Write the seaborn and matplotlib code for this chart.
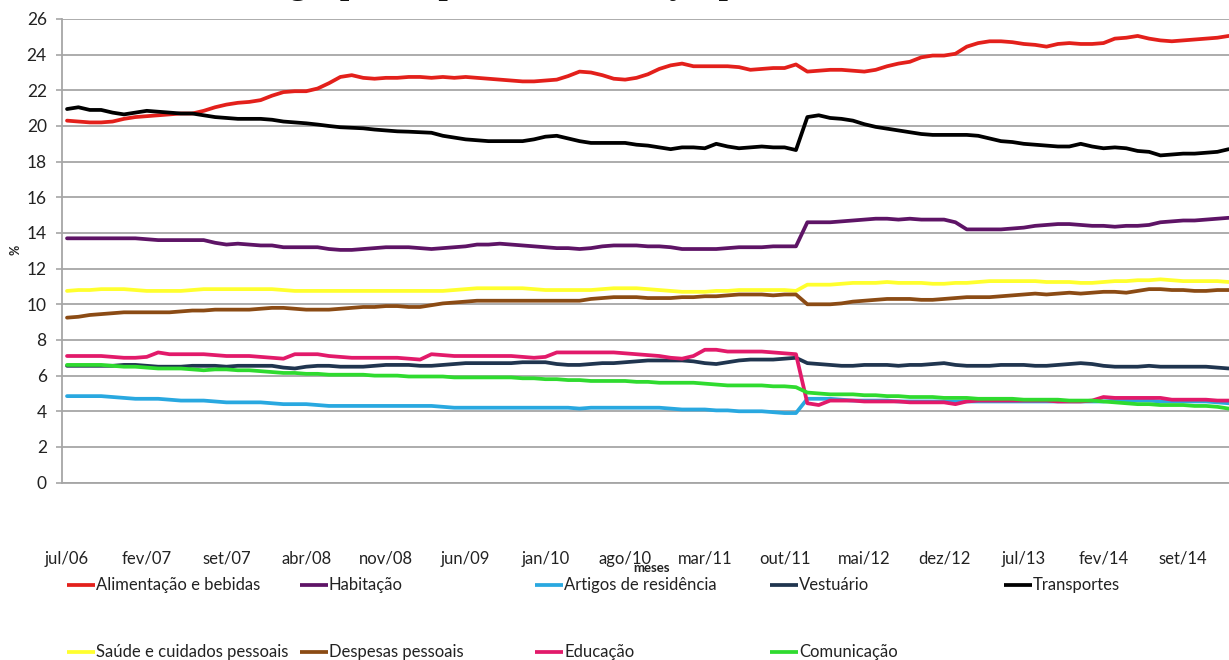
import numpy as np
import pandas as pd
import matplotlib
matplotlib.use("Agg")
import matplotlib.pyplot as plt
import seaborn as sns
from matplotlib.lines import Line2D

# Monthly weights (%) of the IPCA groups, jul/06 onwards
alimentacao = [
    20.3, 20.25, 20.2, 20.2, 20.25, 20.4, 20.5, 20.55, 20.6, 20.65,
    20.7, 20.7, 20.85, 21.05, 21.2, 21.3, 21.35, 21.45, 21.7, 21.9,
    21.95, 21.95, 22.1, 22.4, 22.75, 22.85, 22.7, 22.65, 22.7, 22.7,
    22.75, 22.75, 22.7, 22.75, 22.7, 22.75, 22.7, 22.65, 22.6, 22.55,
    22.5, 22.5, 22.55, 22.6, 22.8, 23.05, 23.0, 22.85, 22.65, 22.6,
    22.7, 22.9, 23.2, 23.4, 23.5, 23.35, 23.35, 23.35, 23.35, 23.3,
    23.15, 23.2, 23.25, 23.25, 23.45, 23.05, 23.1, 23.15, 23.15, 23.1,
    23.05, 23.15, 23.35, 23.5, 23.6, 23.85, 23.95, 23.95, 24.05, 24.45,
    24.65, 24.75, 24.75, 24.7, 24.6, 24.55, 24.45, 24.6, 24.65, 24.6,
    24.6, 24.65, 24.9, 24.95, 25.05, 24.9, 24.8, 24.75, 24.8, 24.85,
    24.9, 24.95, 25.05]
habitacao = [
    13.7, 13.7, 13.7, 13.7, 13.7, 13.7, 13.7, 13.65, 13.6, 13.6,
    13.6, 13.6, 13.6, 13.45, 13.35, 13.4, 13.35, 13.3, 13.3, 13.2,
    13.2, 13.2, 13.2, 13.1, 13.05, 13.05, 13.1, 13.15, 13.2, 13.2,
    13.2, 13.15, 13.1, 13.15, 13.2, 13.25, 13.35, 13.35, 13.4, 13.35,
    13.3, 13.25, 13.2, 13.15, 13.15, 13.1, 13.15, 13.25, 13.3, 13.3,
    13.3, 13.25, 13.25, 13.2, 13.1, 13.1, 13.1, 13.1, 13.15, 13.2,
    13.2, 13.2, 13.25, 13.25, 13.25, 14.6, 14.6, 14.6, 14.65, 14.7,
    14.75, 14.8, 14.8, 14.75, 14.8, 14.75, 14.75, 14.75, 14.6, 14.2,
    14.2, 14.2, 14.2, 14.25, 14.3, 14.4, 14.45, 14.5, 14.5, 14.45,
    14.4, 14.4, 14.35, 14.4, 14.4, 14.45, 14.6, 14.65, 14.7, 14.7,
    14.75, 14.8, 14.85]
artigos = [
    4.85, 4.85, 4.85, 4.85, 4.8, 4.75, 4.7, 4.7, 4.7, 4.65,
    4.6, 4.6, 4.6, 4.55, 4.5, 4.5, 4.5, 4.5, 4.45, 4.4,
    4.4, 4.4, 4.35, 4.3, 4.3, 4.3, 4.3, 4.3, 4.3, 4.3,
    4.3, 4.3, 4.3, 4.25, 4.2, 4.2, 4.2, 4.2, 4.2, 4.2,
    4.2, 4.2, 4.2, 4.2, 4.2, 4.15, 4.2, 4.2, 4.2, 4.2,
    4.2, 4.2, 4.2, 4.15, 4.1, 4.1, 4.1, 4.05, 4.05, 4.0,
    4.0, 4.0, 3.95, 3.9, 3.9, 4.7, 4.7, 4.7, 4.65, 4.6,
    4.6, 4.6, 4.6, 4.55, 4.55, 4.55, 4.55, 4.55, 4.55, 4.55,
    4.55, 4.55, 4.55, 4.55, 4.55, 4.55, 4.55, 4.55, 4.55, 4.55,
    4.55, 4.55, 4.6, 4.6, 4.6, 4.6, 4.55, 4.55, 4.55, 4.55,
    4.55, 4.5, 4.45]
vestuario = [
    6.55, 6.55, 6.55, 6.55, 6.55, 6.6, 6.6, 6.55, 6.5, 6.5,
    6.5, 6.55, 6.55, 6.55, 6.5, 6.55, 6.55, 6.55, 6.55, 6.45,
    6.4, 6.5, 6.55, 6.55, 6.5, 6.5, 6.5, 6.55, 6.6, 6.6,
    6.6, 6.55, 6.55, 6.6, 6.65, 6.7, 6.7, 6.7, 6.7, 6.7,
    6.75, 6.75, 6.75, 6.65, 6.6, 6.6, 6.65, 6.7, 6.7, 6.75,
    6.8, 6.85, 6.85, 6.85, 6.85, 6.8, 6.7, 6.65, 6.75, 6.85,
    6.9, 6.9, 6.9, 6.95, 7.0, 6.7, 6.65, 6.6, 6.55, 6.55,
    6.6, 6.6, 6.6, 6.55, 6.6, 6.6, 6.65, 6.7, 6.6, 6.55,
    6.55, 6.55, 6.6, 6.6, 6.6, 6.55, 6.55, 6.6, 6.65, 6.7,
    6.65, 6.55, 6.5, 6.5, 6.5, 6.55, 6.5, 6.5, 6.5, 6.5,
    6.5, 6.45, 6.4]
transportes = [
    20.95, 21.05, 20.9, 20.9, 20.75, 20.65, 20.75, 20.85, 20.8, 20.75,
    20.7, 20.7, 20.6, 20.5, 20.45, 20.4, 20.4, 20.4, 20.35, 20.25,
    20.2, 20.15, 20.08, 20.0, 19.93, 19.9, 19.87, 19.8, 19.75, 19.7,
    19.68, 19.65, 19.62, 19.45, 19.35, 19.25, 19.2, 19.15, 19.15, 19.15,
    19.15, 19.25, 19.4, 19.45, 19.3, 19.15, 19.05, 19.05, 19.05, 19.05,
    18.95, 18.9, 18.8, 18.7, 18.8, 18.8, 18.75, 19.0, 18.85, 18.75,
    18.8, 18.85, 18.8, 18.8, 18.65, 20.5, 20.6, 20.45, 20.4, 20.3,
    20.1, 19.95, 19.85, 19.75, 19.65, 19.55, 19.5, 19.5, 19.5, 19.5,
    19.45, 19.3, 19.15, 19.1, 19.0, 18.95, 18.9, 18.85, 18.85, 19.0,
    18.85, 18.75, 18.8, 18.75, 18.6, 18.55, 18.35, 18.4, 18.45, 18.45,
    18.5, 18.55, 18.7]
saude = [
    10.75, 10.8, 10.8, 10.85, 10.85, 10.85, 10.8, 10.75, 10.75, 10.75,
    10.75, 10.8, 10.85, 10.85, 10.85, 10.85, 10.85, 10.85, 10.85, 10.8,
    10.75, 10.75, 10.75, 10.75, 10.75, 10.75, 10.75, 10.75, 10.75, 10.75,
    10.75, 10.75, 10.75, 10.75, 10.8, 10.85, 10.9, 10.9, 10.9, 10.9,
    10.9, 10.85, 10.8, 10.8, 10.8, 10.8, 10.8, 10.85, 10.9, 10.9,
    10.9, 10.85, 10.8, 10.75, 10.7, 10.7, 10.7, 10.75, 10.75, 10.8,
    10.8, 10.8, 10.8, 10.8, 10.75, 11.1, 11.1, 11.1, 11.15, 11.2,
    11.2, 11.2, 11.25, 11.2, 11.2, 11.2, 11.15, 11.15, 11.2, 11.2,
    11.25, 11.3, 11.3, 11.3, 11.3, 11.3, 11.25, 11.25, 11.25, 11.2,
    11.2, 11.25, 11.3, 11.3, 11.35, 11.35, 11.4, 11.35, 11.3, 11.3,
    11.3, 11.3, 11.25]
despesas = [
    9.25, 9.3, 9.4, 9.45, 9.5, 9.55, 9.55, 9.55, 9.55, 9.55,
    9.6, 9.65, 9.65, 9.7, 9.7, 9.7, 9.7, 9.75, 9.8, 9.8,
    9.75, 9.7, 9.7, 9.7, 9.75, 9.8, 9.85, 9.85, 9.9, 9.9,
    9.85, 9.85, 9.95, 10.05, 10.1, 10.15, 10.2, 10.2, 10.2, 10.2,
    10.2, 10.2, 10.2, 10.2, 10.2, 10.2, 10.3, 10.35, 10.4, 10.4,
    10.4, 10.35, 10.35, 10.35, 10.4, 10.4, 10.45, 10.45, 10.5, 10.55,
    10.55, 10.55, 10.5, 10.55, 10.55, 10.0, 10.0, 10.0, 10.05, 10.15,
    10.2, 10.25, 10.3, 10.3, 10.3, 10.25, 10.25, 10.3, 10.35, 10.4,
    10.4, 10.4, 10.45, 10.5, 10.55, 10.6, 10.55, 10.6, 10.65, 10.6,
    10.65, 10.7, 10.7, 10.65, 10.75, 10.85, 10.85, 10.8, 10.8, 10.75,
    10.75, 10.8, 10.8]
educacao = [
    7.1, 7.1, 7.1, 7.1, 7.05, 7.0, 7.0, 7.05, 7.3, 7.2,
    7.2, 7.2, 7.2, 7.15, 7.1, 7.1, 7.1, 7.05, 7.0, 6.95,
    7.2, 7.2, 7.2, 7.1, 7.05, 7.0, 7.0, 7.0, 7.0, 7.0,
    6.95, 6.9, 7.2, 7.15, 7.1, 7.1, 7.1, 7.1, 7.1, 7.1,
    7.05, 7.0, 7.05, 7.3, 7.3, 7.3, 7.3, 7.3, 7.3, 7.25,
    7.2, 7.15, 7.1, 7.0, 6.95, 7.1, 7.45, 7.45, 7.35, 7.35,
    7.35, 7.35, 7.3, 7.25, 7.2, 4.45, 4.35, 4.6, 4.6, 4.6,
    4.55, 4.55, 4.55, 4.55, 4.5, 4.5, 4.5, 4.5, 4.4, 4.55,
    4.6, 4.6, 4.6, 4.6, 4.6, 4.6, 4.6, 4.55, 4.55, 4.55,
    4.6, 4.8, 4.75, 4.75, 4.75, 4.75, 4.75, 4.65, 4.65, 4.65,
    4.65, 4.6, 4.6]
comunicacao = [
    6.6, 6.6, 6.6, 6.6, 6.55, 6.5, 6.5, 6.45, 6.4, 6.4,
    6.4, 6.35, 6.3, 6.35, 6.35, 6.3, 6.3, 6.25, 6.2, 6.15,
    6.15, 6.1, 6.1, 6.05, 6.05, 6.05, 6.05, 6.0, 6.0, 6.0,
    5.95, 5.95, 5.95, 5.95, 5.9, 5.9, 5.9, 5.9, 5.9, 5.9,
    5.85, 5.85, 5.8, 5.8, 5.75, 5.75, 5.7, 5.7, 5.7, 5.7,
    5.65, 5.65, 5.6, 5.6, 5.6, 5.6, 5.55, 5.5, 5.45, 5.45,
    5.45, 5.45, 5.4, 5.4, 5.35, 5.05, 5.0, 4.95, 4.95, 4.95,
    4.9, 4.9, 4.85, 4.85, 4.8, 4.8, 4.8, 4.75, 4.75, 4.75,
    4.7, 4.7, 4.7, 4.7, 4.65, 4.65, 4.65, 4.65, 4.6, 4.6,
    4.6, 4.55, 4.5, 4.45, 4.4, 4.4, 4.35, 4.35, 4.35, 4.3,
    4.3, 4.25, 4.15]

grupos = ["Alimentação e bebidas", "Habitação", "Artigos de residência",
          "Vestuário", "Transportes", "Saúde e cuidados pessoais",
          "Despesas pessoais", "Educação", "Comunicação"]
series = [alimentacao, habitacao, artigos, vestuario, transportes,
          saude, despesas, educacao, comunicacao]
cores = ["#E3201B", "#5E1466", "#29A8E0", "#20354F", "#000000",
         "#FFFF2E", "#8B4B14", "#E21A6A", "#2FDB2F"]

tick_labels = ["jul/06", "fev/07", "set/07", "abr/08", "nov/08", "jun/09",
               "jan/10", "ago/10", "mar/11", "out/11", "mai/12", "dez/12",
               "jul/13", "fev/14", "set/14"]
tick_step = 7

n = len(alimentacao)
df = pd.concat(
    [pd.DataFrame({"mes": np.arange(n), "peso": vals, "grupo": g})
     for g, vals in zip(grupos, series)],
    ignore_index=True)

sns.set_theme(style="white")
plt.rcParams["font.family"] = ["Lato", "DejaVu Sans"]

W, H = 1229, 660
fig = plt.figure(figsize=(W / 100, H / 100), dpi=100)
fig.patch.set_facecolor("white")

def fx(px):
    return px / W

def fy(py):
    return 1 - py / H

ax_left, ax_right, ax_top, ax_bot = 62, 1229, 19, 482.6
ax = fig.add_axes([fx(ax_left), fy(ax_bot), fx(ax_right - ax_left),
                   (ax_bot - ax_top) / H])
ax.set_facecolor("white")

grid_c = "#A6A6A6"
ax.set_axisbelow(True)
ax.yaxis.grid(True, color=grid_c, linewidth=1.3)
ax.xaxis.grid(False)

lw = 2.7
sns.lineplot(data=df, x="mes", y="peso", hue="grupo", hue_order=grupos,
             palette=dict(zip(grupos, cores)), linewidth=lw, legend=False,
             ax=ax, clip_on=True)

ax.set_xlim(-0.44, 102.02)
ax.set_ylim(0, 26)
ax.set_yticks(np.arange(0, 27, 2))
ax.set_yticklabels([str(v) for v in range(0, 27, 2)])
ax.set_xticks(np.arange(0, tick_step * len(tick_labels), tick_step))
ax.set_xticklabels(tick_labels)

for s in ["top", "right"]:
    ax.spines[s].set_visible(False)
for s in ["left", "bottom"]:
    ax.spines[s].set_color(grid_c)
    ax.spines[s].set_linewidth(1.3)

ax.tick_params(axis="y", which="major", length=4, width=1.2, color=grid_c,
               pad=7, labelsize=12.5, labelcolor="#222222", left=True)
ax.tick_params(axis="x", which="major", length=0, pad=49, labelsize=12,
               labelcolor="#222222")
ax.set_xlabel("")
ax.set_ylabel("")

# axis titles
fig.text(fx(16), fy(250), "%", rotation=90, ha="center", va="center",
         fontsize=9, fontweight="bold", color="#222222")
fig.text(fx(652), fy(568), "meses", ha="center", va="center", fontsize=9.5,
         fontweight="bold", color="#222222")

# chart title, mostly above the canvas
fig.text(fx(160), fy(-6), "Peso dos grupos de produtos e serviços pelo IPCA, 2006-2014",
         ha="left", va="baseline", fontsize=24, fontweight="bold",
         family=["Liberation Serif", "DejaVu Serif"], color="#111111")

# legend entries laid out in two rows
col_x = [67, 300, 535, 770, 1004]
row_y = [585, 652]
slots = [(0, 0), (0, 1), (0, 2), (0, 3), (0, 4),
         (1, 0), (1, 1), (1, 2), (1, 3)]
for g, c, (r, k) in zip(grupos, cores, slots):
    x0 = col_x[k]
    y0 = row_y[r]
    fig.add_artist(Line2D([fx(x0), fx(x0 + 28)], [fy(y0), fy(y0)],
                          color=c, linewidth=lw, solid_capstyle="butt"))
    fig.text(fx(x0 + 29), fy(y0), g, ha="left", va="center", fontsize=12,
             color="#222222")

fig.savefig("out.png", dpi=100, facecolor="white")
